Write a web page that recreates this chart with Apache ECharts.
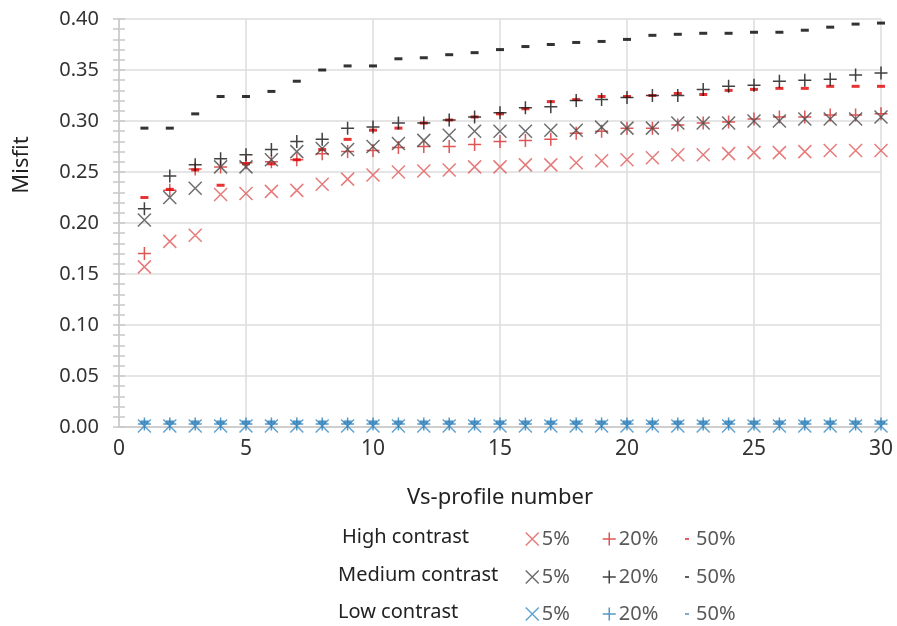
<!DOCTYPE html>
<html><head><meta charset="utf-8">
<script src="https://cdn.jsdelivr.net/npm/echarts@6/dist/echarts.min.js"></script>
<style>html,body{margin:0;padding:0;background:#fff}#c{width:897px;height:626px}</style>
</head><body><div id="c"></div>
<script>
const profiles = Array.from({length:30},(_,i)=>i+1);
const xTicks = [0,5,10,15,20,25,30];
const yTicks = [0,0.05,0.10,0.15,0.20,0.25,0.30,0.35,0.40];
const high5  = [0.157,0.182,0.188,0.228,0.229,0.231,0.232,0.238,0.243,0.247,0.250,0.251,0.252,0.255,0.255,0.257,0.257,0.259,0.261,0.262,0.264,0.267,0.267,0.268,0.269,0.269,0.270,0.271,0.271,0.271];
const high20 = [0.170,0.232,0.253,0.255,0.259,0.260,0.262,0.268,0.270,0.271,0.274,0.275,0.275,0.277,0.280,0.281,0.282,0.288,0.290,0.293,0.293,0.296,0.298,0.299,0.302,0.304,0.304,0.306,0.306,0.307];
const high50 = [0.225,0.233,0.252,0.237,0.258,0.258,0.262,0.272,0.282,0.291,0.293,0.298,0.301,0.304,0.307,0.312,0.319,0.321,0.324,0.324,0.325,0.327,0.326,0.330,0.331,0.332,0.332,0.334,0.334,0.334];
const med5   = [0.203,0.225,0.234,0.255,0.255,0.262,0.270,0.273,0.272,0.275,0.278,0.281,0.286,0.290,0.290,0.290,0.291,0.291,0.294,0.293,0.293,0.298,0.298,0.298,0.300,0.300,0.302,0.302,0.302,0.304];
const med20  = [0.214,0.246,0.257,0.263,0.267,0.272,0.280,0.282,0.293,0.294,0.298,0.298,0.301,0.304,0.308,0.313,0.314,0.320,0.321,0.323,0.325,0.325,0.331,0.334,0.335,0.339,0.340,0.341,0.345,0.347];
const med50  = [0.293,0.293,0.307,0.324,0.324,0.329,0.339,0.350,0.354,0.354,0.361,0.362,0.365,0.367,0.370,0.373,0.375,0.377,0.378,0.380,0.384,0.385,0.386,0.386,0.387,0.387,0.389,0.392,0.395,0.396];
const low5   = [0.001,0.001,0.001,0.001,0.001,0.001,0.001,0.001,0.001,0.001,0.001,0.001,0.001,0.001,0.001,0.001,0.001,0.001,0.001,0.001,0.001,0.001,0.001,0.001,0.001,0.001,0.001,0.001,0.001,0.001];
const low20  = [0.003,0.003,0.003,0.003,0.003,0.003,0.003,0.003,0.003,0.003,0.003,0.003,0.003,0.003,0.003,0.003,0.003,0.003,0.003,0.003,0.003,0.003,0.003,0.003,0.003,0.003,0.003,0.003,0.003,0.003];
const low50  = [0.005,0.005,0.005,0.005,0.005,0.005,0.005,0.005,0.005,0.005,0.005,0.005,0.005,0.005,0.005,0.005,0.005,0.005,0.005,0.005,0.005,0.005,0.005,0.005,0.005,0.005,0.005,0.005,0.005,0.005];
const groups = ['High contrast','Medium contrast','Low contrast'];
const levels = ['5%','20%','50%'];

const FONT = 'Noto Sans';
const CROSS = 'path://M0,0L10,10M10,0L0,10';
const PLUS = 'path://M5,0L5,10M0,5L10,5';
const DASH = 'path://M0,0L10,0L10,4L0,4Z';
const colors = [
  ['#e05a5a','#d42a2a','#e00000'],
  ['#4a4a4a','#111111','#000000'],
  ['#3a8cc4','#2a7db8','#2a7db8']
];
const dataSets = [[high5,high20,high50],[med5,med20,med50],[low5,low20,low50]];
const symbols = [CROSS, PLUS, DASH];
const sizes = [[13,13],[13,13],[8,3]];

const series = [];
const legends = [];
const legendLeft = [525, 602, 685];
const rowCenter = [541, 579, 616];
groups.forEach((g,gi)=>{
  levels.forEach((lv,li)=>{
    const name = g + ' ' + lv;
    const c = colors[gi][li];
    const st = li < 2 ? {color:'rgba(0,0,0,0)', borderColor:c, borderWidth:1.5}
                      : {color:c, borderColor:c, borderWidth:0};
    series.push({
      name, type:'scatter', symbol:symbols[li], symbolSize:sizes[li],
      itemStyle:st, emphasis:{disabled:true}, animation:false,
      data: profiles.map((p,i)=>[p, dataSets[gi][li][i]])
    });
    legends.push({
      left: legendLeft[li], top: rowCenter[gi]-12, padding:0,
      itemWidth: li<2?13:4, itemHeight: li<2?13:3, itemGap:0,
      selectedMode:false,
      data:[{name, icon:symbols[li], itemStyle:st}],
      formatter: ()=>lv,
      textStyle:{fontFamily:FONT, fontSize:20, color:'#595959', padding:[0,0,0,li<2?-2:2]}
    });
  });
});

const chart = echarts.init(document.getElementById('c'));
chart.setOption({
  animation:false,
  backgroundColor:'#fff',
  grid:{left:119, right:16, top:19, bottom:199},
  xAxis:{
    type:'value', min:xTicks[0], max:xTicks[xTicks.length-1], interval:xTicks[1]-xTicks[0],
    name:'Vs-profile number', nameLocation:'middle', nameGap:60,
    nameTextStyle:{fontFamily:FONT, fontSize:22, color:'#222'},
    axisLine:{lineStyle:{color:'#c8c8c8', width:1.5}},
    axisTick:{show:false},
    axisLabel:{fontFamily:FONT, fontSize:21, color:'#333', margin:12},
    splitLine:{show:true, lineStyle:{color:'#dcdcdc', width:1.5}}
  },
  yAxis:[{
    type:'value', min:yTicks[0], max:yTicks[yTicks.length-1], interval:yTicks[1]-yTicks[0],
    axisLine:{show:true, lineStyle:{color:'#c8c8c8', width:1.5}},
    axisTick:{show:true, length:6, lineStyle:{color:'#c8c8c8', width:1.5}},
    minorTick:{show:true, splitNumber:5, length:6, lineStyle:{color:'#c8c8c8', width:1.5}},
    axisLabel:{fontFamily:FONT, fontSize:20, color:'#333', margin:20, formatter:v=>v.toFixed(2)},
    splitLine:{show:true, lineStyle:{color:'#dcdcdc', width:1.5}}
  },{
    type:'value', position:'left', min:yTicks[0], max:yTicks[yTicks.length-1], interval:yTicks[1]-yTicks[0],
    axisLine:{show:false},
    axisTick:{show:true, inside:true, length:6, lineStyle:{color:'#c8c8c8', width:1.5}},
    minorTick:{show:true, splitNumber:5, length:6, lineStyle:{color:'#c8c8c8', width:1.5}},
    axisLabel:{show:false}, splitLine:{show:false}
  }],
  legend: legends,
  graphic: [{
    type:'text', x:22, y:165, rotation:Math.PI/2,
    style:{text:'Misfit', fontFamily:FONT, fontSize:22, fill:'#222', align:'center', verticalAlign:'middle'}
  }].concat(groups.map((g,gi)=>({
    type:'text', left: gi===0?342:338, top: rowCenter[gi]-14,
    style:{text:g, fontFamily:FONT, fontSize:20, fill:'#222'}
  }))),
  series
});
</script></body></html>
